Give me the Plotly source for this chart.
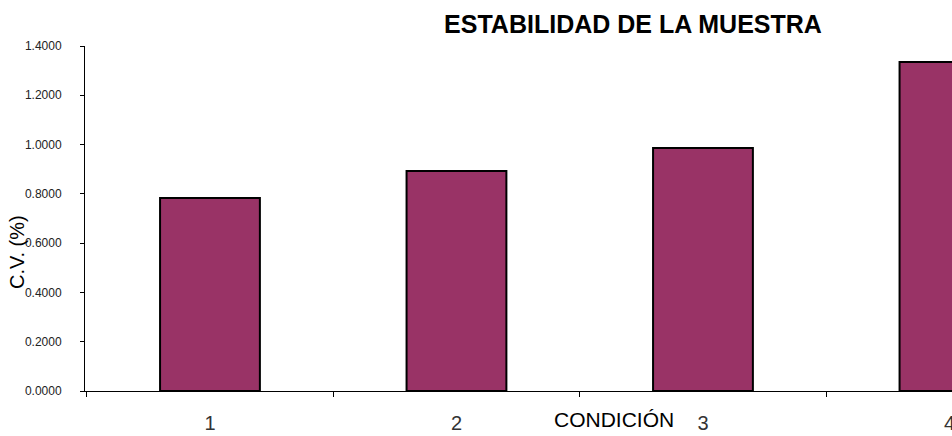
import plotly.graph_objects as go

# Coefficient of variation per test condition
condiciones = ["1", "2", "3", "4"]
cv_pct = [0.783, 0.893, 0.986, 1.335]
y_ticks = [0.0, 0.2, 0.4, 0.6, 0.8, 1.0, 1.2, 1.4]

FONT = "Liberation Sans, Arial, sans-serif"

# The figure is laid out wider than the page, so the last bar runs off the
# visible right edge; overflow is hidden to keep scrollbars away.
FIG_W, FIG_H = 1010, 436
L, R, T, B = 85, 0, 46, 45
PLOT_W = FIG_W - L - R
PLOT_H = FIG_H - T - B
PX_PER_CAT = 246.5
X0 = -0.507
X1 = X0 + PLOT_W / PX_PER_CAT


def px_x(px):
    return (px - L) / PLOT_W


def px_y(py):
    return (FIG_H - B - py) / PLOT_H


fig = go.Figure(
    go.Bar(
        x=condiciones,
        y=cv_pct,
        width=0.405,
        marker=dict(color="#993366", line=dict(color="#000000", width=2)),
    )
)

fig.update_layout(
    width=FIG_W,
    height=FIG_H,
    margin=dict(l=L, r=R, t=T, b=B),
    paper_bgcolor="white",
    plot_bgcolor="white",
    showlegend=False,
    font=dict(family=FONT, color="#000000"),
    title=dict(
        text="<b>ESTABILIDAD DE LA MUESTRA</b>",
        x=633 / FIG_W,
        xanchor="center",
        y=1 - 24 / FIG_H,
        yanchor="middle",
        font=dict(family=FONT, size=25, color="#000000"),
    ),
    annotations=[
        dict(
            text="CONDICIÓN",
            xref="paper", yref="paper",
            x=px_x(614), y=px_y(419),
            xanchor="center", yanchor="middle",
            showarrow=False,
            font=dict(family=FONT, size=21, color="#000000"),
        ),
        dict(
            text="C.V. (%)",
            xref="paper", yref="paper",
            x=px_x(17), y=px_y(252),
            xanchor="center", yanchor="middle",
            textangle=-90,
            showarrow=False,
            font=dict(family=FONT, size=20, color="#000000"),
        ),
    ],
)

fig.update_xaxes(
    type="category",
    range=[X0, X1],
    tickson="boundaries",
    ticks="outside",
    ticklen=5,
    tickcolor="#000000",
    showline=True,
    linecolor="#000000",
    linewidth=1,
    showgrid=False,
    zeroline=False,
    ticklabelstandoff=14,
    tickfont=dict(family=FONT, size=20, color="#333333"),
)

fig.update_yaxes(
    range=[0, 1.4],
    tickvals=y_ticks,
    tickformat=".4f",
    ticks="outside",
    ticklen=4,
    tickcolor="#000000",
    showline=True,
    linecolor="#000000",
    linewidth=1,
    showgrid=False,
    zeroline=False,
    ticklabelstandoff=16,
    tickfont=dict(family=FONT, size=12, color="#222222"),
)

fig.write_html(
    "out.html",
    post_script=(
        "document.documentElement.style.overflow='hidden';"
        "document.body.style.overflow='hidden';"
        "document.body.style.margin='0';"
    ),
)
